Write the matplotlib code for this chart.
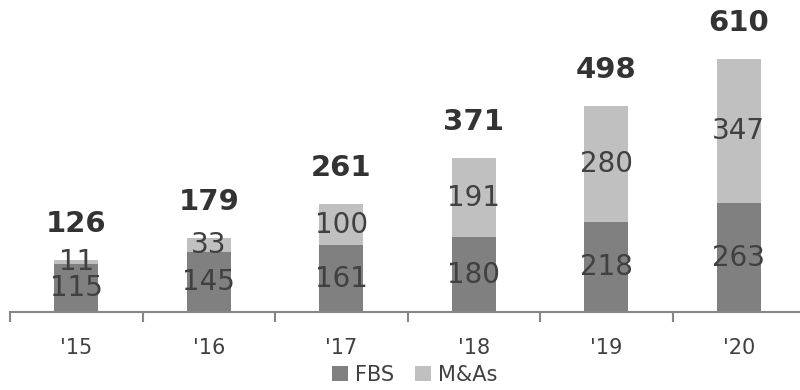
import matplotlib
matplotlib.use("Agg")
import matplotlib.pyplot as plt
import numpy as np

years = ["'15", "'16", "'17", "'18", "'19", "'20"]
fbs = [115, 145, 161, 180, 218, 263]
mnas = [11, 33, 100, 191, 280, 347]
totals = [126, 179, 261, 371, 498, 610]

W, H = 800, 390
fig = plt.figure(figsize=(W / 100, H / 100), dpi=100)
plt.rcParams["font.family"] = ["DejaVu Sans"]

# axes spans from x=10px to x=805px, baseline at y=312px
ax = fig.add_axes([10 / W, 78 / H, 795 / W, 312 / H])

x = np.arange(len(years))
c_fbs = "#808080"
c_mna = "#c0c0c0"
txt = "#404040"

ax.bar(x, fbs, width=0.335, color=c_fbs, label="FBS")
ax.bar(x, mnas, width=0.335, bottom=fbs, color=c_mna, label="M&As")

for xi, f, m, t in zip(x, fbs, mnas, totals):
    ax.text(xi, f / 2, str(f), ha="center", va="center", fontsize=20, color=txt)
    ax.text(xi, f + m / 2, str(m), ha="center", va="center", fontsize=20, color=txt)
    ax.text(xi, t + 87, str(t), ha="center", va="center", fontsize=21,
            fontweight="bold", color="#333333")

ax.set_xlim(-0.5, len(years) - 0.5)
ax.set_ylim(0, 753)

for s in ["top", "right", "left"]:
    ax.spines[s].set_visible(False)
ax.spines["bottom"].set_color("#868686")
ax.spines["bottom"].set_linewidth(1.5)

ax.set_yticks([])
ax.set_xticks(x)
ax.set_xticklabels(years, fontsize=15, color=txt)
ax.tick_params(axis="x", which="major", length=0, pad=19)
ax.set_xticks(np.arange(-0.5, len(years)), minor=True)
ax.tick_params(axis="x", which="minor", length=7, width=1.5, color="#868686",
               direction="out")

fig.legend(loc="center", bbox_to_anchor=(415 / W, 1 - 375 / H), ncol=2,
           frameon=False, fontsize=15, handlelength=0.75, handleheight=0.75,
           handletextpad=0.35, columnspacing=1.0, labelcolor=txt)

fig.savefig("out.png", dpi=100)
